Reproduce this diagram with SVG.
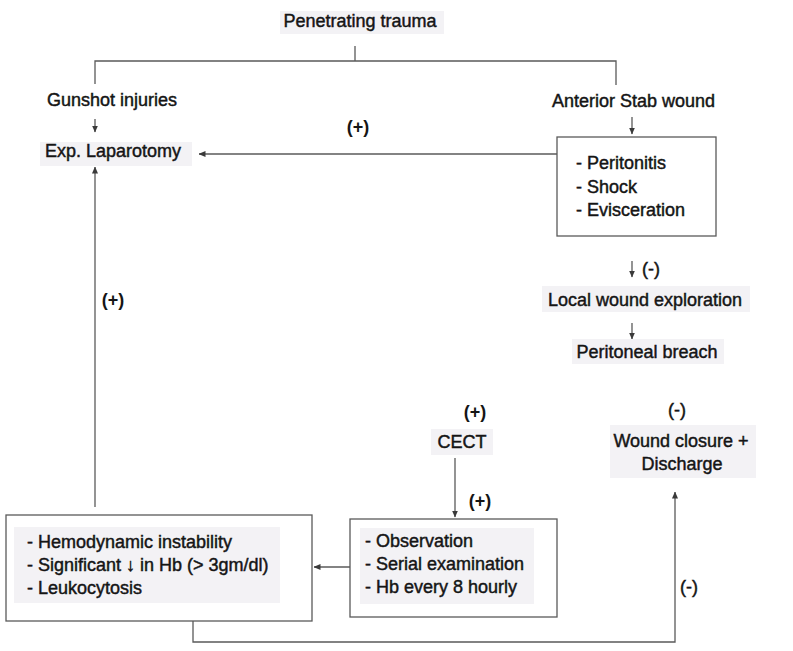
<svg xmlns="http://www.w3.org/2000/svg" width="793" height="651" viewBox="0 0 793 651">
<defs>
<style>
text{font-family:"Liberation Sans",Arial,sans-serif;font-size:18px;fill:#151515;stroke:#151515;stroke-width:0.45}
.b{font-weight:bold;stroke-width:0}
.m{text-anchor:middle}
.ln{fill:none;stroke:#5a5a5a;stroke-width:1.3}
.box{fill:#fff;stroke:#5a5a5a;stroke-width:1.3}
.hl{fill:#f3f2f5}
</style>
<marker id="ah" viewBox="0 0 7 7" markerWidth="7" markerHeight="7" refX="6.5" refY="3.5" orient="auto" markerUnits="userSpaceOnUse">
<path d="M0,0.5 L7,3.5 L0,6.5 z" fill="#3a3a3a"/>
</marker>
</defs>
<rect width="793" height="651" fill="#fff"/>

<g id="connectors">
<path class="ln" d="M355,46 V61 M95,84 V61 H616 V85"/>
<path class="ln" d="M95,119 V132" marker-end="url(#ah)"/>
<path class="ln" d="M632,117 V134" marker-end="url(#ah)"/>
<path class="ln" d="M557,154 H199" marker-end="url(#ah)"/>
<path class="ln" d="M632,261 V277" marker-end="url(#ah)"/>
<path class="ln" d="M632,323 V339" marker-end="url(#ah)"/>
<path class="ln" d="M95,507 V167" marker-end="url(#ah)"/>
<path class="ln" d="M455,458 V517" marker-end="url(#ah)"/>
<path class="ln" d="M350,567 H314" marker-end="url(#ah)"/>
<path class="ln" d="M193,621 V642 H675 V492" marker-end="url(#ah)"/>
</g>

<g id="penetrating">
<rect class="hl" x="280" y="11" width="164" height="23"/>
<text class="m" x="360" y="27">Penetrating trauma</text>
</g>
<g id="gunshot">
<text x="47" y="106">Gunshot injuries</text>
</g>
<g id="laparotomy">
<rect class="hl" x="40" y="142" width="152" height="24"/>
<text x="45" y="157">Exp. Laparotomy</text>
</g>
<g id="label-plus-top"><text class="b m" x="358" y="133">(+)</text></g>
<g id="stab">
<text x="552" y="107">Anterior Stab wound</text>
</g>
<g id="signs">
<rect class="box" x="557" y="137" width="159" height="99"/>
<text x="576" y="169">- Peritonitis</text>
<text x="576" y="193">- Shock</text>
<text x="576" y="216">- Evisceration</text>
</g>
<g id="label-minus-1"><text x="642" y="275">(-)</text></g>
<g id="local">
<rect class="hl" x="542" y="286" width="208" height="26"/>
<text class="m" x="645" y="306">Local wound exploration</text>
</g>
<g id="breach">
<rect class="hl" x="572" y="339" width="152" height="25"/>
<text class="m" x="647" y="358">Peritoneal breach</text>
</g>
<g id="label-plus-left"><text class="b m" x="113" y="306">(+)</text></g>
<g id="label-plus-cect"><text class="b m" x="475" y="418">(+)</text></g>
<g id="cect">
<rect class="hl" x="431" y="429" width="62" height="26"/>
<text class="m" x="462" y="448">CECT</text>
</g>
<g id="label-plus-obs"><text class="b m" x="480" y="507">(+)</text></g>
<g id="label-minus-2"><text class="m" x="677" y="416">(-)</text></g>
<g id="closure">
<rect class="hl" x="610" y="425" width="146" height="53"/>
<text class="m" x="681" y="447">Wound closure +</text>
<text class="m" x="682" y="470">Discharge</text>
</g>
<g id="instability">
<rect class="box" x="6" y="515" width="306" height="106"/>
<rect class="hl" x="14" y="527" width="266" height="76"/>
<text x="27" y="548">- Hemodynamic instability</text>
<text x="27" y="571">- Significant ↓ in Hb (&gt; 3gm/dl)</text>
<text x="27" y="594">- Leukocytosis</text>
</g>
<g id="observation">
<rect class="box" x="350" y="519" width="207" height="98"/>
<rect class="hl" x="360" y="528" width="174" height="76"/>
<text x="365" y="547">- Observation</text>
<text x="365" y="570">- Serial examination</text>
<text x="365" y="593">- Hb every 8 hourly</text>
</g>
<g id="label-minus-3"><text class="m" x="689" y="593">(-)</text></g>
</svg>
